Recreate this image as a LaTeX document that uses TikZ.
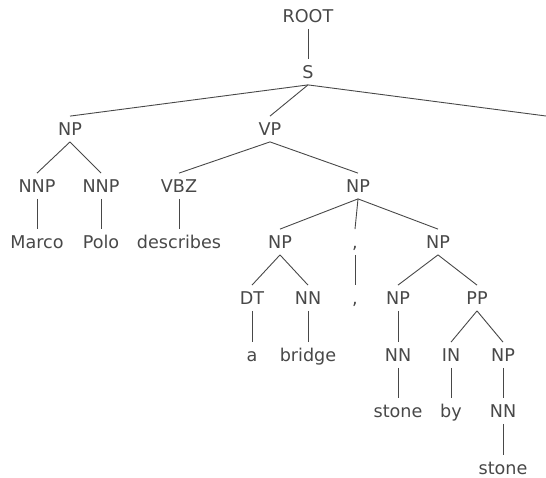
\documentclass[tikz,border=0pt]{standalone}
\usepackage{fontspec}
\setmainfont{DejaVu Sans}
\definecolor{ink}{RGB}{72,72,72}
\begin{document}
\begin{tikzpicture}[x=1pt,y=-1pt,
  lbl/.style={inner sep=0pt, outer xsep=0pt, outer ysep=6.5pt, text height=12.8pt, text depth=0pt,
    font=\fontsize{17.6}{20}\selectfont, text=ink},
  edge/.style={draw=ink, line width=0.9pt}]
\useasboundingbox (0,0) rectangle (546,477);
% level 0-1
\node[lbl] (root) at (308,16) {ROOT};
\node[lbl] (s) at (308,72) {S};
% level 2
\node[lbl] (np1) at (70,129) {NP};
\node[lbl] (vp) at (270,129) {VP};
\coordinate (dot) at (546,116);
% level 3
\node[lbl] (nnp1) at (37,186) {NNP};
\node[lbl] (nnp2) at (101,186) {NNP};
\node[lbl] (vbz) at (179,186) {VBZ};
\node[lbl] (np2) at (358,186) {NP};
% level 4
\node[lbl] (marco) at (37,242) {Marco};
\node[lbl] (polo) at (101,242) {Polo};
\node[lbl] (describes) at (179,242) {describes};
\node[lbl] (np3) at (280,242) {NP};
\node[lbl] (c1) at (355,242) {,};
\node[lbl] (np4) at (438,242) {NP};
% level 5
\node[lbl] (dt) at (252,298) {DT};
\node[lbl] (nn1) at (308,298) {NN};
\node[lbl] (c2) at (355,298) {,};
\node[lbl] (np5) at (398,298) {NP};
\node[lbl] (pp) at (477,298) {PP};
% level 6
\node[lbl] (a) at (252,355) {a};
\node[lbl] (bridge) at (308,355) {bridge};
\node[lbl] (nn2) at (398,355) {NN};
\node[lbl] (in) at (451,355) {IN};
\node[lbl] (np6) at (503,355) {NP};
% level 7
\node[lbl] (stone1) at (398,411) {stone};
\node[lbl] (by) at (451,411) {by};
\node[lbl] (nn3) at (503,411) {NN};
% level 8
\node[lbl] (stone2) at (503,468) {stone};
% edges
\draw[edge] (root.south) -- (s.north);
\draw[edge] (s.south) -- (np1.north);
\draw[edge] (s.south) -- (vp.north);
\draw[edge] (s.south) -- (dot);
\draw[edge] (np1.south) -- (nnp1.north);
\draw[edge] (np1.south) -- (nnp2.north);
\draw[edge] (nnp1.south) -- (marco.north);
\draw[edge] (nnp2.south) -- (polo.north);
\draw[edge] (vp.south) -- (vbz.north);
\draw[edge] (vp.south) -- (np2.north);
\draw[edge] (vbz.south) -- (describes.north);
\draw[edge] (np2.south) -- (np3.north);
\draw[edge] (np2.south) -- (c1.north);
\draw[edge] (np2.south) -- (np4.north);
\draw[edge] (np3.south) -- (dt.north);
\draw[edge] (np3.south) -- (nn1.north);
\draw[edge] (c1.south) -- (c2.north);
\draw[edge] (np4.south) -- (np5.north);
\draw[edge] (np4.south) -- (pp.north);
\draw[edge] (dt.south) -- (a.north);
\draw[edge] (nn1.south) -- (bridge.north);
\draw[edge] (np5.south) -- (nn2.north);
\draw[edge] (pp.south) -- (in.north);
\draw[edge] (pp.south) -- (np6.north);
\draw[edge] (nn2.south) -- (stone1.north);
\draw[edge] (in.south) -- (by.north);
\draw[edge] (np6.south) -- (nn3.north);
\draw[edge] (nn3.south) -- (stone2.north);
\end{tikzpicture}
\end{document}
